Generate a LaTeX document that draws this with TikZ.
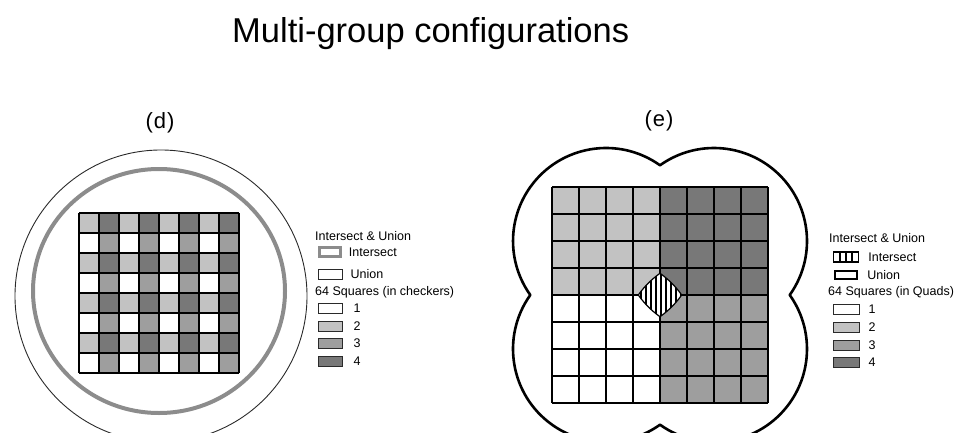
\documentclass[tikz,border=0pt]{standalone}
\usepackage{fontspec}
\setmainfont{Liberation Sans}
\usetikzlibrary{positioning}
\definecolor{sq1}{HTML}{FFFFFF}
\definecolor{sq2}{HTML}{C2C2C2}
\definecolor{sq3}{HTML}{9E9E9E}
\definecolor{sq4}{HTML}{787878}
\definecolor{ringgray}{HTML}{8C8C8C}
\definecolor{inkgray}{HTML}{2A2A2A}
\newcommand\lenspath{(681.72,137) arc[start angle=35.49,end angle=54.51,radius=93] arc[start angle=125.49,end angle=144.51,radius=93] arc[start angle=215.49,end angle=234.51,radius=93] arc[start angle=305.49,end angle=324.51,radius=93] -- cycle}

\begin{document}
\begin{tikzpicture}[x=1pt,y=1pt,
 cell/.style={draw=black,line width=1.1pt},
 legbox/.style={draw=inkgray,line width=0.8pt,minimum width=24pt,minimum height=10pt,inner sep=0pt},
 legtxt/.style={font=\fontsize{12.5}{12.5}\selectfont,anchor=west,inner sep=0pt},
 panel/.style={font=\fontsize{22}{22}\selectfont},
 hull/.style={draw=black,line width=2.6pt,line join=round}]
\useasboundingbox (0,0) rectangle (965,432);
\clip (0,0) rectangle (965,432);
\node[anchor=base west,inner sep=0pt,font=\fontsize{34.5}{34.5}\selectfont] (title) at (232,389) {Multi-group configurations};
% (d) checkers
\node[panel] (labd) at (160,309) {(\kern1pt d\kern1pt)};
\draw[inkgray,line width=0.9pt] (161,136) circle[radius=146];
\draw[ringgray,line width=4pt] (159,141) ellipse[x radius=126,y radius=122];
\foreach \r in {0,...,7}
 \foreach \c in {0,...,7}{
  \pgfmathtruncatemacro\k{1+mod(\c,2)*2+(1-mod(\r,2))}
  \fill[sq\k] (79+20*\c,199-20*\r) rectangle ++(20,20);
 }
\draw[cell,shift={(79,59)}] (0,0) grid[step=20] (160,160);
\node[legtxt] (dhead) at (315,196) {Intersect \& Union};
\node[legbox,draw=ringgray,line width=2.5pt,minimum width=21pt,minimum height=9pt] (dint) at (330,180) {};
\node[legtxt,right=7pt of dint] (dintl) {Intersect};
\node[legbox] (duni) at (330,158) {};
\node[legtxt,right=8pt of duni] (dunil) {Union};
\node[legtxt] (dsqh) at (315,140) {64 Squares (in checkers)};
\foreach \k/\yy in {1/124,2/106,3/89,4/71}{
 \node[legbox,fill=sq\k] (dsq\k) at (330,\yy) {};
 \node[legtxt,right=11pt of dsq\k] (dnum\k) {\k};
}
% (e) quads
\node[panel] (labe) at (659,311) {(\kern1pt e\kern1pt)};
\draw[hull] (660,266.72) arc[start angle=54.51,end angle=215.49,radius=93] arc[start angle=144.51,end angle=305.49,radius=93] arc[start angle=234.51,end angle=395.49,radius=93] arc[start angle=-35.49,end angle=125.49,radius=93] -- cycle;
\foreach \r in {0,...,7}
 \foreach \c in {0,...,7}{
  \pgfmathtruncatemacro\k{1+(\c>3)*2+(\r<4)}
  \fill[sq\k] (552+27*\c,218-27*\r) rectangle ++(27,27);
 }
\draw[cell,shift={(552,29)}] (0,0) grid[step=27] (216,216);
\fill[white] \lenspath;
\begin{scope}
 \clip \lenspath;
 \foreach \x in {641,646,...,682} \draw[line width=1.1pt] (\x,110) -- (\x,165);
\end{scope}
\draw[line width=1.2pt] \lenspath;
\node[legtxt] (ehead) at (829,194) {Intersect \& Union};
\node[legbox,draw=black,line width=1.3pt,minimum width=25pt,minimum height=10pt] (eint) at (846,175) {};
\foreach \x in {-6,0,6} \draw[line width=1.1pt] ([xshift=\x pt]eint.south) -- ([xshift=\x pt]eint.north);
\node[legtxt,right=9pt of eint] (eintl) {Intersect};
\node[legbox,draw=black,line width=2.5pt,minimum width=22pt,minimum height=8pt] (euni) at (846,157) {};
\node[legtxt,right=9pt of euni] (eunil) {Union};
\node[legtxt] (esqh) at (828,140) {64 Squares (in Quads)};
\foreach \k/\yy in {1/123,2/105,3/87,4/70}{
 \node[legbox,minimum width=26pt,fill=sq\k] (esq\k) at (846,\yy) {};
 \node[legtxt,right=9pt of esq\k] (enum\k) {\k};
}
\end{tikzpicture}
\end{document}
